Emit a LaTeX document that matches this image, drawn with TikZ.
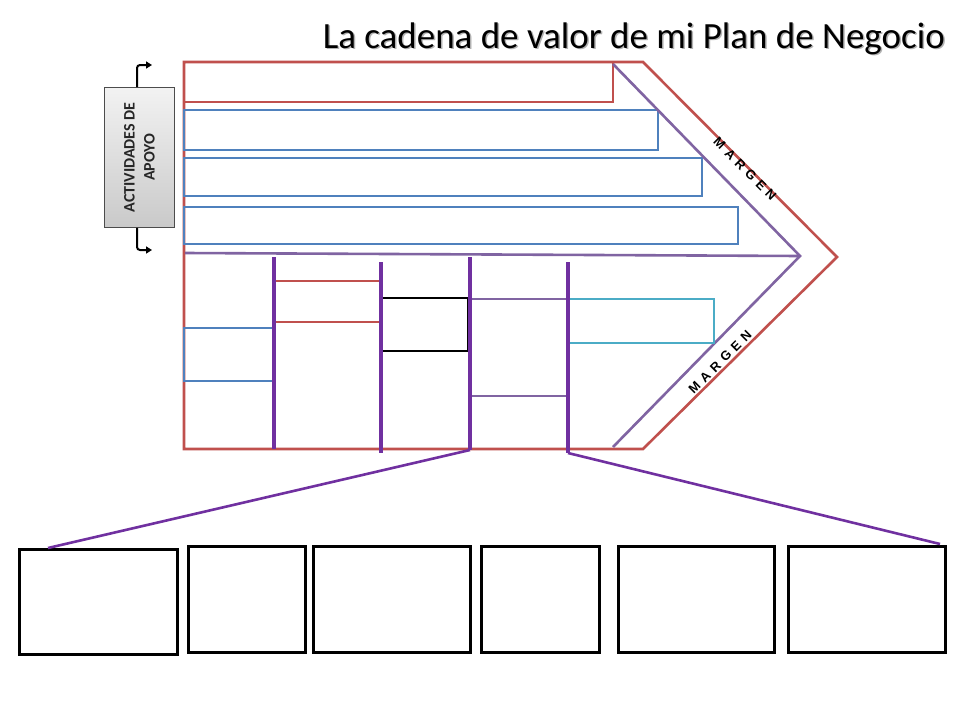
\documentclass[tikz,border=0pt]{standalone}
\usepackage{fontspec}
\setmainfont{Carlito}
\newfontfamily\arialb{Liberation Sans}[BoldFont={* Bold}]
\usetikzlibrary{arrows.meta}
\definecolor{ored}{HTML}{C0504D}
\definecolor{oblue}{HTML}{4F81BD}
\definecolor{opurple}{HTML}{7030A0}
\definecolor{omuted}{HTML}{8064A2}
\definecolor{ocyan}{HTML}{4BACC6}
\newcommand\mgsp{\kern5pt}
\begin{document}
\begin{tikzpicture}[x=1pt,y=-1pt,
  redl/.style={draw=ored,line width=2.6pt},
  bluel/.style={draw=oblue,line width=2.6pt},
  purpl/.style={draw=opurple,line width=3.2pt},
  mutl/.style={draw=omuted,line width=2.6pt},
  cyanl/.style={draw=ocyan,line width=2.6pt},
  blkl/.style={draw=black,line width=2.8pt},
  bbox/.style={draw=black,line width=3pt,rectangle,inner sep=0pt,anchor=north west},
  margen/.style={font=\arialb\bfseries\fontsize{13}{13}\selectfont,inner sep=0pt},
  bent/.style={draw=black,line width=2pt,-{Triangle[length=6pt,width=7pt]},rounded corners=3pt}
]
\useasboundingbox[fill=white] (0,0) rectangle (960,720);

% title with shadow
\node[anchor=base east,text=black!30,font=\fontsize{37}{37}\selectfont,inner sep=0pt] (titleshadow) at (946.5,49.5) {La cadena de valor de mi Plan de Negocio};
\node[anchor=base east,text=black,font=\fontsize{37}{37}\selectfont,inner sep=0pt] (title) at (945,48) {La cadena de valor de mi Plan de Negocio};

% support activities box
\node[draw=black!70,line width=0.8pt,top color=gray!10,bottom color=gray!42,minimum width=70pt,minimum height=140pt,anchor=north west,inner sep=0pt] (apoyo) at (104,87) {};
\node[rotate=90,align=center,font=\bfseries\fontsize{16}{20}\selectfont,text=black!85] (apoyotxt) at (apoyo.center) {ACTIVIDADES DE\\APOYO};
\coordinate (uptip) at (152,65);
\coordinate (dntip) at (152,250);
\draw[bent] (apoyo.north -| 137,0) |- (uptip);
\draw[bent] (apoyo.south -| 137,0) |- (dntip);

% main value chain frame
\draw[redl] (184,62) -- (643,62) -- (837,257) -- (643,449) -- (184,449) -- cycle;
\draw[redl] (184,62) rectangle (613,102);
\draw[bluel] (184,110) rectangle (658,150);
\draw[bluel] (184,158) rectangle (702,196);
\draw[bluel] (184,207) rectangle (738,244);
\draw[mutl] (613,64) -- (800,256) -- (613,447);
\draw[mutl] (185,253) -- (800,256);

% primary activities cells
\draw[bluel] (274,328) -- (184,328) -- (184,381) -- (274,381);
\draw[redl] (274,281) -- (381,281);
\draw[redl] (274,322) -- (381,322);
\draw[blkl] (381,298) rectangle (468,351);
\draw[mutl] (470,299) -- (568,299);
\draw[mutl] (470,396) -- (568,396);
\draw[cyanl] (568,299) -- (714,299) -- (714,343) -- (568,343);

% vertical separators
\coordinate (v1t) at (274,257); \coordinate (v1b) at (274,449);
\coordinate (v2t) at (381,262); \coordinate (v2b) at (381,453);
\coordinate (v3t) at (470,257); \coordinate (v3b) at (470,450);
\coordinate (v4t) at (568,262); \coordinate (v4b) at (568,453);
\draw[purpl] (v1t) -- (v1b);
\draw[purpl] (v2t) -- (v2b);
\draw[purpl] (v3t) -- (v3b);
\draw[purpl] (v4t) -- (v4b);

% margin labels
\node[margen,rotate=-45] (margen1) at (745,169) {M\mgsp A\mgsp R\mgsp G\mgsp E\mgsp N};
\node[margen,rotate=45] (margen2) at (720,362) {M\mgsp A\mgsp R\mgsp G\mgsp E\mgsp N};

% bottom boxes
\node[bbox,minimum width=158pt,minimum height=105pt] (b1) at (18,548) {};
\node[bbox,minimum width=117pt,minimum height=106pt] (b2) at (187,545) {};
\node[bbox,minimum width=157pt,minimum height=106pt] (b3) at (312,545) {};
\node[bbox,minimum width=118pt,minimum height=106pt] (b4) at (480,545) {};
\node[bbox,minimum width=156pt,minimum height=106pt] (b5) at (617,545) {};
\node[bbox,minimum width=157pt,minimum height=106pt] (b6) at (787,545) {};

% expansion connectors
\draw[draw=opurple,line width=2.6pt] (v3b) -- ([xshift=30pt]b1.north west);
\draw[draw=opurple,line width=2.6pt] (v4b) -- ([xshift=-7pt,yshift=1pt]b6.north east);
\end{tikzpicture}
\end{document}
